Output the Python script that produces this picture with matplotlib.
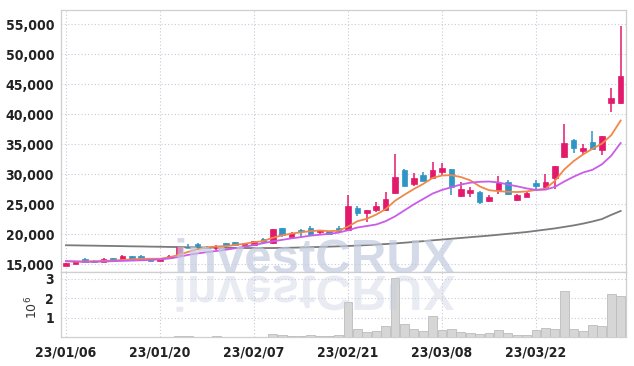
import matplotlib
matplotlib.use("Agg")
import matplotlib.pyplot as plt
import numpy as np
from matplotlib.textpath import TextPath
from matplotlib.patches import PathPatch
from matplotlib.font_manager import FontProperties
from matplotlib.transforms import Affine2D

# ---------------- data ----------------
tick_labels = ['23/01/06', '23/01/20', '23/02/07', '23/02/21', '23/03/08', '23/03/22']
tick_index = [0, 10, 20, 30, 40, 50]

opens = [14750, 15050, 15830, 15660, 15440, 16000, 15780, 16330, 16330, 16000,
         15550, 16050, 16550, 17780, 18430, 17900, 17700, 18600, 18710, 18270,
         18160, 19270, 18600, 21090, 19650, 20700, 21090, 20370, 20540, 21090,
         20700, 24450, 23500, 24000, 24060, 26880, 30710, 28380, 29930, 29320,
         30320, 30870, 26440, 26940, 27100, 25560, 27340, 28780, 25670, 26170,
         28560, 27890, 29390, 32900, 35730, 33900, 35340, 34060, 41900, 41900]
highs = [15250, 15550, 16000, 15780, 16000, 16050, 16500, 16380, 16500, 16050,
         16000, 16500, 17990, 18430, 18550, 18050, 18210, 18650, 18750, 18550,
         18950, 19430, 20980, 21150, 20480, 20870, 21370, 20700, 20600, 21370,
         26500, 24720, 24000, 25440, 27100, 33370, 30870, 30210, 30320, 31980,
         31810, 30950, 28770, 27830, 27150, 26610, 29780, 29110, 26780, 27220,
         29110, 30120, 31340, 38290, 35840, 35120, 37180, 36450, 44290, 54690]
lows = [14700, 15000, 15350, 15330, 15440, 15620, 15780, 15890, 15940, 15550,
        15550, 16050, 16550, 17660, 17660, 17660, 17380, 18270, 18320, 18270,
        18050, 18820, 18380, 19600, 19490, 19600, 19820, 19990, 20150, 20260,
        20540, 23000, 22120, 23780, 23950, 26720, 28000, 28100, 28830, 29200,
        29760, 26610, 26270, 26270, 25050, 25400, 26670, 26560, 25500, 26170,
        27610, 27720, 27610, 32780, 33620, 33280, 34170, 33170, 40350, 41620]
closes = [15200, 15500, 15400, 15440, 15830, 15660, 16330, 15890, 15940, 15550,
          16000, 16440, 17880, 17660, 18050, 17750, 18050, 18270, 18320, 18550,
          18930, 18820, 20870, 19880, 20210, 20600, 19990, 20700, 20150, 20540,
          24800, 23560, 24000, 24780, 25890, 29600, 28100, 29380, 28930, 30710,
          31090, 27830, 27550, 27440, 25440, 26280, 28560, 26720, 26500, 26890,
          28060, 28670, 31340, 35170, 34400, 34400, 34170, 36450, 42680, 46350]
volumes_m = [0.01, 0.01, 0.01, 0.01, 0.01, 0.01, 0.01, 0.01, 0.01, 0.01,
             0.01, 0.01, 0.04, 0.03, 0.01, 0.01, 0.03, 0.02, 0.01, 0.01,
             0.02, 0.02, 0.15, 0.10, 0.05, 0.07, 0.10, 0.05, 0.05, 0.10,
             1.78, 0.41, 0.26, 0.32, 0.56, 3.03, 0.68, 0.41, 0.32, 1.06,
             0.36, 0.43, 0.27, 0.22, 0.15, 0.22, 0.36, 0.22, 0.10, 0.10,
             0.36, 0.46, 0.43, 2.38, 0.43, 0.32, 0.62, 0.56, 2.22, 2.12]
ma_short = [15550, 15500, 15500, 15550, 15600, 15650, 15750, 15850, 15950, 15950,
            15950, 16200, 16600, 17100, 17550, 17850, 18000, 18050, 18250, 18450,
            18700, 18900, 19450, 19850, 20150, 20350, 20550, 20650, 20550, 20600,
            21300, 22200, 22600, 23300, 24200, 25600, 26600, 27550, 28400, 29400,
            29800, 29850, 29550, 29000, 28000, 27350, 27200, 27100, 27050, 27150,
            27400, 27600, 28900, 30800, 32200, 33300, 34250, 35100, 36500, 38950]
ma_mid = [15550, 15500, 15450, 15450, 15500, 15550, 15600, 15650, 15700, 15750,
          15850, 16000, 16250, 16600, 16850, 17050, 17250, 17450, 17700, 17950,
          18250, 18550, 18850, 19100, 19350, 19550, 19800, 19950, 20100, 20300,
          20700, 21150, 21400, 21650, 22200, 23000, 24000, 25000, 25900, 26800,
          27400, 27850, 28300, 28600, 28750, 28800, 28650, 28300, 28000, 27650,
          27400, 27450, 27900, 28800, 29600, 30300, 30750, 31650, 33100, 35200]
ma_long = [18200, 18180, 18150, 18130, 18100, 18080, 18050, 18020, 18000, 17970,
           17950, 17920, 17900, 17870, 17850, 17820, 17800, 17780, 17760, 17740,
           17730, 17730, 17740, 17760, 17790, 17830, 17870, 17920, 17970, 18020,
           18080, 18150, 18230, 18310, 18400, 18500, 18620, 18750, 18880, 19020,
           19150, 19280, 19410, 19540, 19670, 19800, 19950, 20100, 20250, 20400,
           20600, 20800, 21000, 21250, 21500, 21800, 22150, 22550, 23250, 23900]

# ---------------- style ----------------
UP = '#e3196b'
DOWN = '#2f94c6'
GRID = '#c9c9d9'
SPINE = '#cfcfcf'
TXT = '#222222'
tick_font = FontProperties(family='DejaVu Sans', stretch='condensed',
                           weight='bold', size=10)

W, H = 634, 366
fig = plt.figure(figsize=(W / 100, H / 100), dpi=100)
fig.patch.set_facecolor('white')

L, R = 61, 626
ax = fig.add_axes([L / W, (H - 272) / H, (R - L) / W, (272 - 10) / H])
axv = fig.add_axes([L / W, (H - 337) / H, (R - L) / W, (337 - 272) / H], sharex=ax)

x = np.arange(len(opens))
o = np.array(opens, float)
c = np.array(closes, float)
hi = np.array(highs, float)
lo = np.array(lows, float)
colors = [UP if cc >= oo else DOWN for oo, cc in zip(o, c)]

ax.plot(x, ma_long, color='#7a7a7a', lw=1.3, zorder=2)
ax.vlines(x, lo, hi, colors=colors, lw=1.1, zorder=3)
bottoms = np.minimum(o, c)
heights = np.maximum(np.abs(c - o), 60)
ax.bar(x, heights, bottom=bottoms, width=0.6, color=colors, edgecolor=colors,
       linewidth=0.5, zorder=4)
ax.plot(x, ma_short, color='#f0884a', lw=1.3, zorder=5)
ax.plot(x, ma_mid, color='#c95ce8', lw=1.3, zorder=5)

ax.set_xlim(-0.53, 59.57)
ax.set_ylim(13750, 57330)
ax.set_yticks(np.arange(15000, 55001, 5000))
ax.set_yticklabels([f'{v:,}' for v in range(15000, 55001, 5000)])

axv.bar(x, np.array(volumes_m) * 1e6, width=0.95, color='#d6d6d6',
        edgecolor='#bcbcbc', linewidth=0.6, zorder=3)
axv.set_ylim(0, 3.35e6)
axv.set_yticks([1e6, 2e6, 3e6])
axv.set_yticklabels(['1', '2', '3'])
axv.set_xticks(tick_index)
axv.set_xticklabels(tick_labels)
plt.setp(ax.get_xticklabels(), visible=False)

for a in (ax, axv):
    a.set_facecolor('white')
    a.grid(True, color=GRID, linestyle=(0, (1, 2)), linewidth=0.8)
    a.set_axisbelow(True)
    a.tick_params(length=0, colors=TXT, pad=5)
    for lab in a.get_xticklabels() + a.get_yticklabels():
        lab.set_fontproperties(tick_font)
    for s in a.spines.values():
        s.set_color(SPINE)
        s.set_linewidth(0.9)
ax.set_xticks(tick_index)
axv.tick_params(axis='x', pad=6)

axv.text(-0.052, 0.45, r'$10^6$', transform=axv.transAxes, rotation=90,
         ha='center', va='center', fontsize=9, color='#333333')

# ---------------- watermark ----------------
wm_font = FontProperties(family=['Liberation Sans', 'DejaVu Sans'], weight='bold')
wm_size = 35.5
fig.text(173 / W, (H - 273) / H, 'investCRUX', fontproperties=wm_font,
         fontsize=wm_size, color='#c4cbe0', alpha=0.7, ha='left',
         va='baseline', zorder=10)
tp = TextPath((0, 0), 'investCRUX', size=wm_size, prop=wm_font)
scale = 100 / 72.0
refl = PathPatch(tp, facecolor='#c8cee2', edgecolor='none', alpha=0.4, zorder=10)
refl.set_transform(Affine2D().scale(scale, -scale).translate(173, H - 276))
fig.add_artist(refl)

fig.savefig('out.png', dpi=100, facecolor='white')
